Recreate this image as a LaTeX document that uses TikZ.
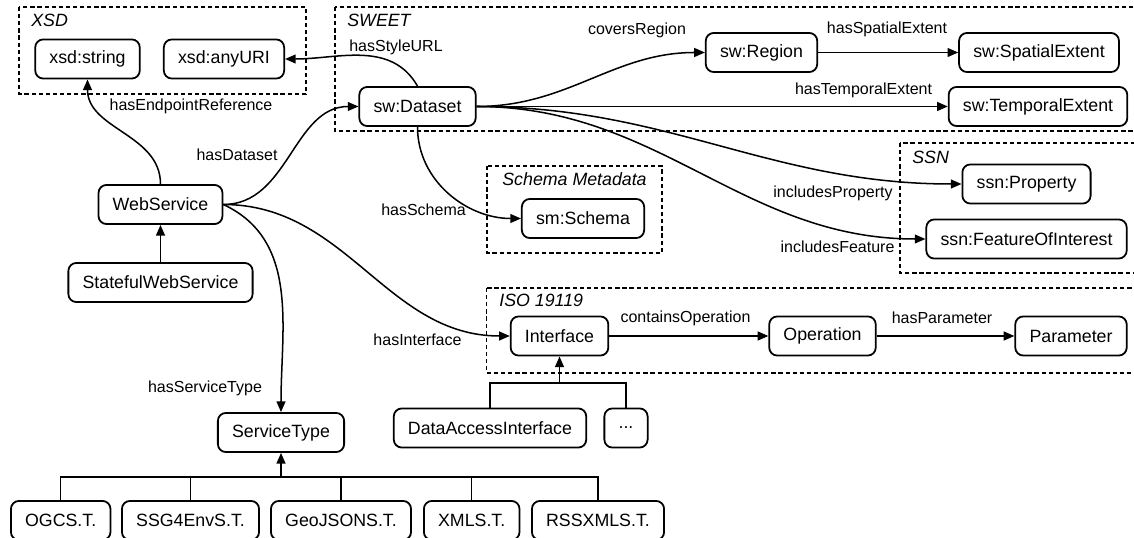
\documentclass[tikz,border=0pt]{standalone}
\usepackage{fontspec}
\setmainfont{Liberation Sans}
\usetikzlibrary{arrows.meta,positioning,calc}

\tikzset{
  cls/.style={draw, rounded corners=4.5pt, line width=1pt, minimum height=22pt, inner xsep=8pt, font=\fontsize{10}{12}\selectfont},
  lbl/.style={font=\fontsize{9}{11}\selectfont, inner sep=1pt},
  grp/.style={draw, line width=0.8pt, dash pattern=on 2.4pt off 1.6pt},
  grplbl/.style={font=\fontsize{10}{12}\selectfont\itshape, anchor=west, inner sep=0pt},
  rel/.style={line width=0.85pt, -{Triangle[length=6pt,width=5pt]}},
  tree/.style={line width=0.85pt},
}

\begin{document}
\begin{tikzpicture}[x=0.5625pt, y=-0.5625pt]
    \useasboundingbox (0,0) rectangle (1134,538);
    \clip (0,0) rectangle (1134,538);

    % Ontology groups
    \draw[grp] (19,7) rectangle (306,94);
    \draw[grp] (335,7) rectangle (1140,131);
    \draw[grp] (487,166) rectangle (662,253);
    \draw[grp] (900,143) rectangle (1140,273);
    \draw[grp] (486.5,288) rectangle (1140,373);
    \node[grplbl] (tXSD) at (31,20) {XSD};
    \node[grplbl] (tSWEET) at (347,20) {SWEET};
    \node[grplbl, anchor=center] (tSM) at (574.5,179) {Schema Metadata};
    \node[grplbl] (tSSN) at (912,157) {SSN};
    \node[grplbl] (tISO) at (499,300) {ISO 19119};

    % XSD
    \node[cls] (xstring) at (87.5,59) {xsd:string};
    \node[cls] (xuri) at (224,59) {xsd:anyURI};

    % SWEET
    \node[cls] (dataset) at (417.5,106.5) {sw:Dataset};
    \node[cls] (region) at (761.5,52.5) {sw:Region};
    \node[cls] (spatial) at (1039,52.5) {sw:SpatialExtent};
    \node[cls] (temporal) at (1038,106.5) {sw:TemporalExtent};

    % SSN and schema
    \node[cls] (property) at (1026.5,184) {ssn:Property};
    \node[cls] (feature) at (1026.5,239) {ssn:FeatureOfInterest};
    \node[cls] (schema) at (583,218.5) {sm:Schema};

    % Services
    \node[cls] (ws) at (160.5,204.5) {WebService};
    \node[cls] (sws) at (160.5,282.5) {StatefulWebService};
    \node[cls] (stype) at (281,432.5) {ServiceType};

    % ISO 19119
    \node[cls] (iface) at (559.5,336) {Interface};
    \node[cls] (oper) at (822.5,336) {Operation};
    \node[cls] (param) at (1071,336) {Parameter};
    \node[cls] (dai) at (490,428) {DataAccessInterface};
    \node[cls] (more) at (626,428) {...};

    % Service types
    \node[cls] (ogc) at (60.7,520.5) {OGCS.T.};
    \node[cls] (ssg) at (190.5,520.5) {SSG4EnvS.T.};
    \node[cls] (geojson) at (341,520.5) {GeoJSONS.T.};
    \node[cls] (xmls) at (471.7,520.5) {XMLS.T.};
    \node[cls] (rss) at (598,520.5) {RSSXMLS.T.};

    % Properties
    \draw[rel] (ws.north) to[out=90,in=-90] (xstring.south);
    \draw[rel] (ws.east) to[out=0,in=180] (dataset.west);
    \draw[rel] (ws.east) to[out=0,in=180] (iface.west);
    \draw[rel] (ws.east) to[out=-25,in=90] (stype.north);
    \draw[rel] (dataset.north) to[out=120,in=0] (xuri.east);
    \draw[rel] (dataset.east) to[out=0,in=180] (region.west);
    \draw[rel] (dataset.east) -- (temporal.west);
    \draw[rel] (dataset.east) to[out=0,in=180] (property.west);
    \draw[rel] (dataset.east) to[out=0,in=180] (feature.west);
    \draw[rel] (dataset.south) to[out=-90,in=180] (schema.west);
    \draw[rel] (region) -- (spatial);
    \draw[rel] (iface) -- (oper);
    \draw[rel] (oper) -- (param);

    % Subclasses
    \draw[rel] (sws) -- (ws);
    \coordinate (stbar) at (281,477);
    \foreach \n in {ogc,ssg,geojson,xmls,rss} {
        \draw[tree] (\n.north) |- (stbar);
    }
    \draw[rel] (stbar) -- (stype.south);
    \coordinate (ifbar) at (559.5,383);
    \foreach \n in {dai,more} {
        \draw[tree] (\n.north) |- (ifbar);
    }
    \draw[rel] (ifbar) -- (iface.south);

    % Property labels
    \node[lbl] (lEndpoint) at (191,106) {hasEndpointReference};
    \node[lbl] (lDataset) at (237,155) {hasDataset};
    \node[lbl] (lStyle) at (396,47) {hasStyleURL};
    \node[lbl] (lRegion) at (637,30) {coversRegion};
    \node[lbl] (lSpatial) at (887,29) {hasSpatialExtent};
    \node[lbl] (lTemporal) at (863.5,90) {hasTemporalExtent};
    \node[lbl] (lSchema) at (423.5,210) {hasSchema};
    \node[lbl] (lProperty) at (833,193) {includesProperty};
    \node[lbl] (lFeature) at (837.5,247) {includesFeature};
    \node[lbl] (lInterface) at (417.5,340) {hasInterface};
    \node[lbl] (lOperation) at (685.5,318) {containsOperation};
    \node[lbl] (lParameter) at (942,318) {hasParameter};
    \node[lbl] (lServiceType) at (205,388) {hasServiceType};
\end{tikzpicture}
\end{document}
